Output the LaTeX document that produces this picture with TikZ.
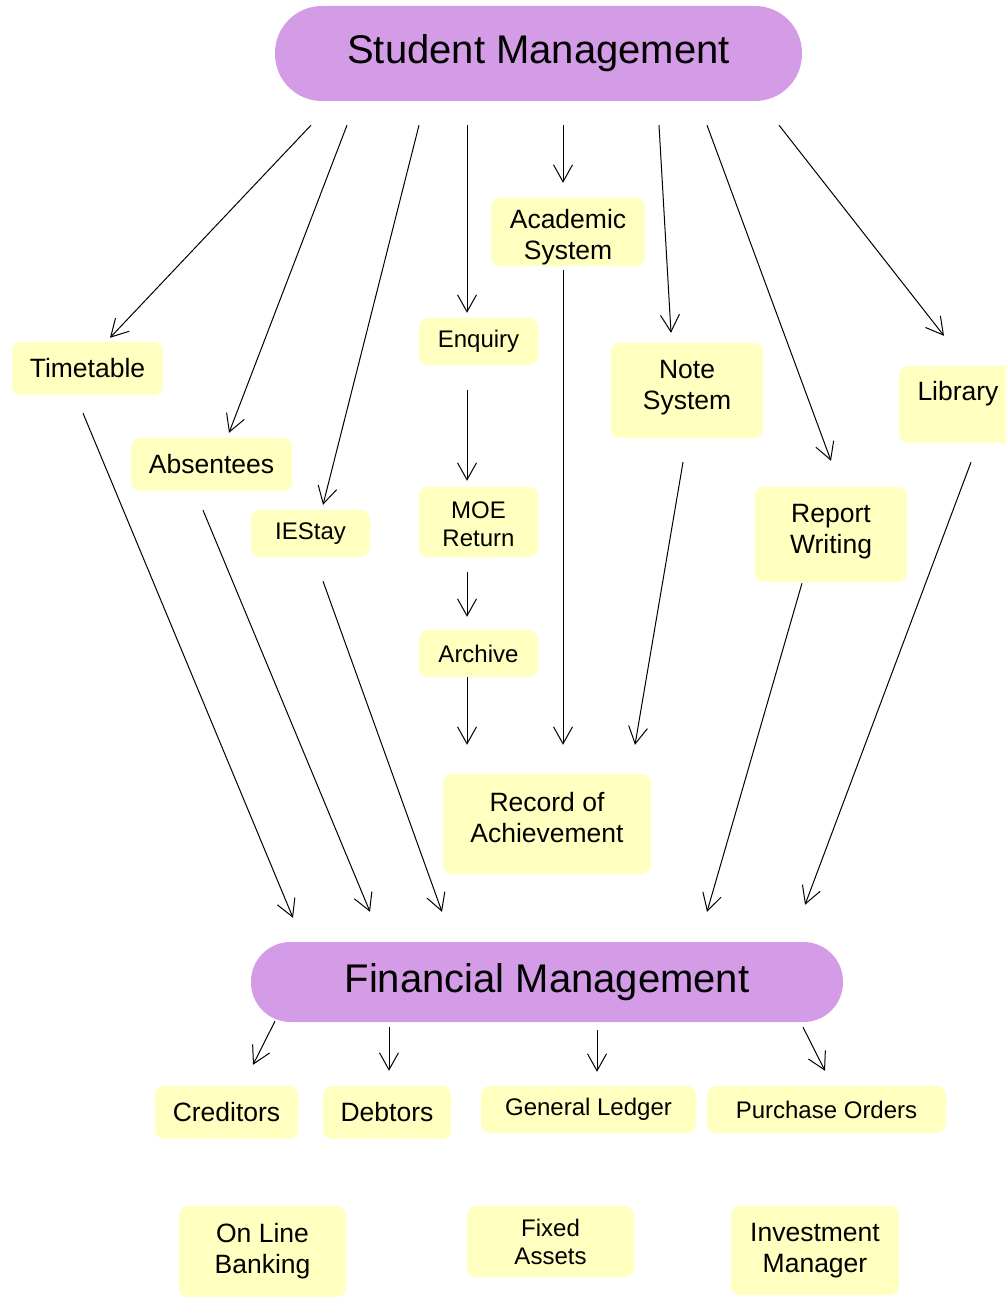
\documentclass[tikz,border=0pt]{standalone}
\usepackage{fontspec}
\setmainfont{Liberation Sans}
\usetikzlibrary{arrows.meta}
\definecolor{pu}{RGB}{212, 155, 231}
\definecolor{ye}{RGB}{255, 255, 192}

\begin{document}
\begin{tikzpicture}[x=1pt, y=-1pt,
        box/.style={fill=ye, rounded corners=9pt, inner sep=0pt, align=center, font=\fontsize{26.5}{31}\selectfont},
        sbox/.style={box, font=\fontsize{24}{28}\selectfont},
        big/.style={fill=pu, inner sep=0pt, font=\fontsize{40}{48}\selectfont},
        arr/.style={-{Straight Barb[length=17pt, width=19pt]}, line width=1pt}]
        \useasboundingbox (0,0) rectangle (1005,1297);
        % the two main blocks
        \node[big, rounded corners=47pt, minimum width=527pt, minimum height=95pt] (sm) at (538.5,53.5) {Student Management};
        \node[big, rounded corners=39.5pt, minimum width=592pt, minimum height=80pt] (fm) at (547,982) {\raisebox{-4pt}{Financial Management}};
        % student side
        \node[box, minimum width=151pt, minimum height=53pt] (tt) at (87.5,368.5) {Timetable};
        \node[box, minimum width=161pt, minimum height=53pt] (ab) at (211.5,464.5) {Absentees};
        \node[sbox, minimum width=119pt, minimum height=47pt] (ie) at (310.5,533.5) {IEStay};
        \node[sbox, minimum width=119pt, minimum height=47pt] (en) at (478.5,341.5) {Enquiry};
        \node[sbox, minimum width=119pt, minimum height=70pt] (mo) at (478.5,522) {\rule{0pt}{22pt}MOE\\Return};
        \node[sbox, minimum width=119pt, minimum height=47pt] (ar) at (478.5,653.5) {Archive};
        \node[box, minimum width=154pt, minimum height=68pt] (ac) at (568,232) {\rule{0pt}{30pt}Academic\\System};
        \node[box, minimum width=152pt, minimum height=95pt] (ns) at (687,390.5) {Note\\System\rule[-12pt]{0pt}{12pt}};
        \node[box, minimum width=118pt, minimum height=77pt, text height=20pt, text depth=28pt] (li) at (958,404.5) {Library};
        \node[box, minimum width=152pt, minimum height=95pt] (rw) at (831,534.5) {Report\\Writing\rule[-11pt]{0pt}{11pt}};
        \node[box, minimum width=208pt, minimum height=100pt] (ra) at (547,824) {Record of\\Achievement\rule[-14pt]{0pt}{14pt}};
        % financial side
        \node[box, minimum width=143pt, minimum height=53pt] (cr) at (226.5,1112.5) {Creditors};
        \node[box, minimum width=128pt, minimum height=53pt] (de) at (387,1112.5) {Debtors};
        \node[sbox, minimum width=215pt, minimum height=47pt] (gl) at (588.5,1109.5) {General Ledger};
        \node[sbox, minimum width=239pt, minimum height=47pt] (po) at (826.5,1109.5) {Purchase Orders};
        \node[box, minimum width=167pt, minimum height=91pt] (ob) at (262.5,1251.5) {On Line\\Banking};
        \node[sbox, minimum width=167pt, minimum height=71pt] (fa) at (550.5,1241.5) {Fixed\\Assets};
        \node[box, minimum width=168pt, minimum height=89pt] (im) at (815,1250.5) {Investment\\Manager};
        % arrows out of student management
        \draw[arr] ([shift={(-227.5,24)}]sm.south) -- ([shift={(22.5,-4)}]tt.north);
        \draw[arr] ([shift={(-191.5,24)}]sm.south) -- ([shift={(17.5,-5)}]ab.north);
        \draw[arr] ([shift={(-119.5,24)}]sm.south) -- ([shift={(12.5,-5)}]ie.north);
        \draw[arr] ([shift={(-71.5,24)}]sm.south) -- ([shift={(-11.5,-5)}]en.north);
        \draw[arr] ([shift={(24.5,24)}]sm.south) -- ([shift={(-5,-15)}]ac.north);
        \draw[arr] ([shift={(120.5,24)}]sm.south) -- ([shift={(-16,-10)}]ns.north);
        \draw[arr] ([shift={(168.5,24)}]sm.south) -- ([shift={(0,-26)}]rw.north);
        \draw[arr] ([shift={(240.5,24)}]sm.south) -- ([shift={(-14,-30)}]li.north);
        % chain down to the record
        \draw[arr] ([shift={(-11.5,25)}]en.south) -- ([shift={(-11.5,-6)}]mo.north);
        \draw[arr] ([shift={(-11.5,15)}]mo.south) -- ([shift={(-11.5,-13)}]ar.north);
        \draw[arr] ([shift={(-11.5,0)}]ar.south) -- ([shift={(-80,-29)}]ra.north);
        \draw[arr] ([shift={(-5,4)}]ac.south) -- ([shift={(16,-29)}]ra.north);
        \draw[arr] ([shift={(-4,24)}]ns.south) -- ([shift={(88,-29)}]ra.north);
        % into financial management
        \draw[arr] ([shift={(-4.5,18)}]tt.south) -- ([shift={(-254,-24)}]fm.north);
        \draw[arr] ([shift={(-8.5,19)}]ab.south) -- ([shift={(-177,-30)}]fm.north);
        \draw[arr] ([shift={(12.5,24)}]ie.south) -- ([shift={(-105,-30)}]fm.north);
        \draw[arr] ([shift={(-29,1)}]rw.south) -- ([shift={(160,-30)}]fm.north);
        \draw[arr] ([shift={(13,19)}]li.south) -- ([shift={(258,-37)}]fm.north);
        % out of financial management
        \draw[arr] ([shift={(-272,-1)}]fm.south) -- ([shift={(26.5,-21)}]cr.north);
        \draw[arr] ([shift={(-158,5)}]fm.south) -- ([shift={(2,-15)}]de.north);
        \draw[arr] ([shift={(50,8)}]fm.south) -- ([shift={(8.5,-14)}]gl.north);
        \draw[arr] ([shift={(256,5)}]fm.south) -- ([shift={(-1.5,-15)}]po.north);
\end{tikzpicture}
\end{document}
